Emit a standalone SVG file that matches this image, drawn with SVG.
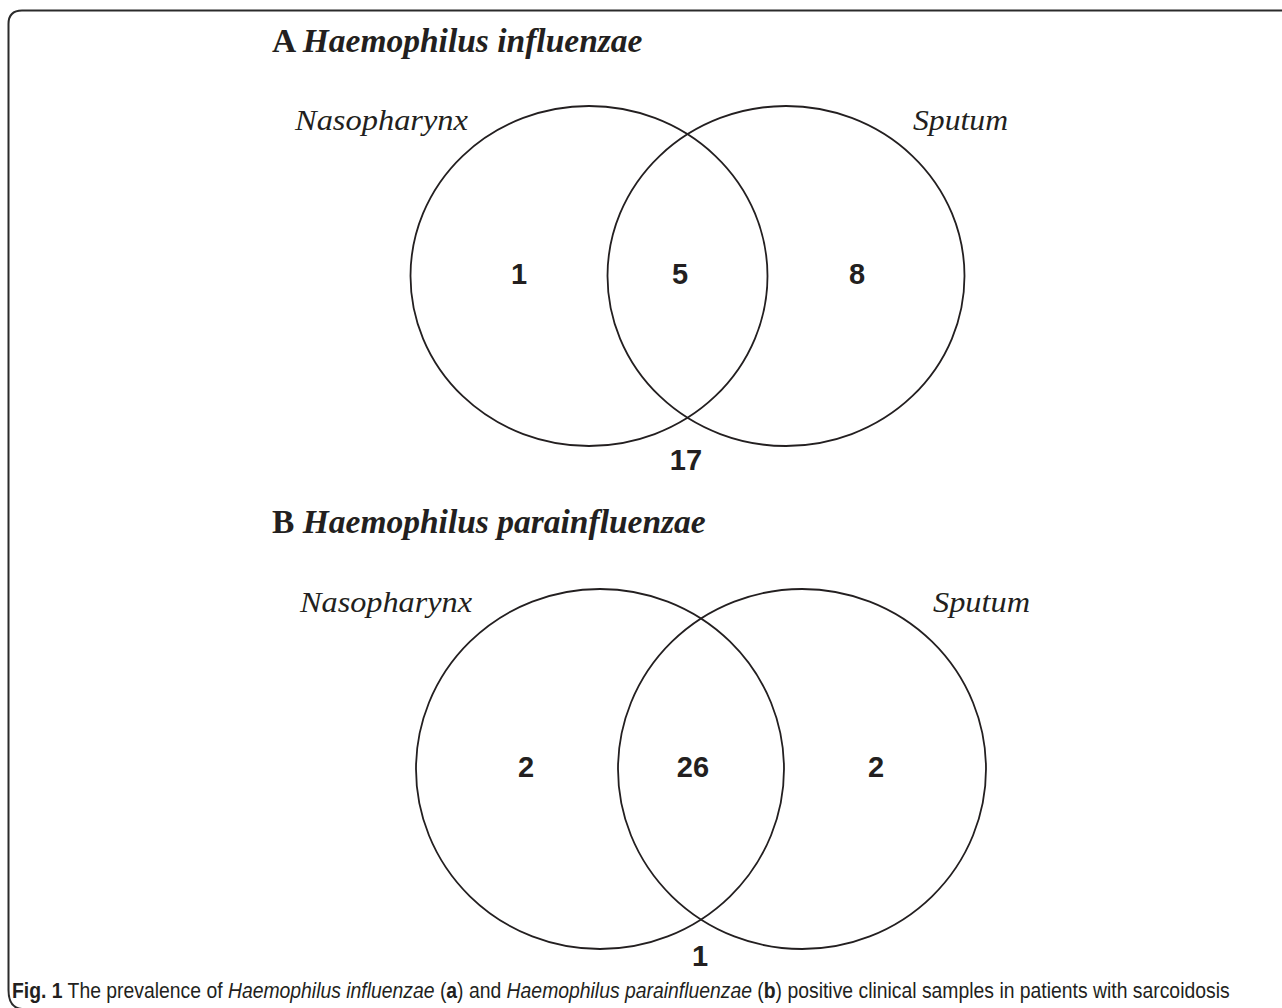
<svg xmlns="http://www.w3.org/2000/svg" width="1282" height="1008" viewBox="0 0 1282 1008">
<style>
.frame{fill:none;stroke:#2b2b2b;stroke-width:2}
.set{fill:none;stroke:#231f20;stroke-width:1.8}
.title{font-family:"Liberation Serif",serif;font-size:33.5px;font-weight:bold;fill:#231f20}
.lbl{font-family:"Liberation Serif",serif;font-size:29px;font-style:italic;fill:#231f20}
.num{font-family:"Liberation Sans",Arial,sans-serif;font-size:29px;font-weight:bold;fill:#231f20;text-anchor:middle}
.cap{font-family:"Liberation Sans",Arial,sans-serif;font-size:22px;fill:#231f20}
</style>
<rect width="1282" height="1008" fill="#fff"/>
<path class="frame" d="M1282 10.5 H22 Q8.5 10.5 8.5 24 V990 Q8.5 1008 22 1009"/>

<g id="panelA">
  <text class="title" x="272" y="52">A <tspan font-style="italic">Haemophilus  influenzae</tspan></text>
  <g id="A-nasopharynx">
    <ellipse class="set" cx="589" cy="276" rx="178.5" ry="170"/>
    <text class="lbl" x="295" y="130" textLength="173" lengthAdjust="spacingAndGlyphs">Nasopharynx</text>
    <text class="num" x="519" y="284">1</text>
  </g>
  <g id="A-sputum">
    <ellipse class="set" cx="786" cy="276" rx="178.5" ry="170"/>
    <text class="lbl" x="913" y="130" textLength="95" lengthAdjust="spacingAndGlyphs">Sputum</text>
    <text class="num" x="857" y="284">8</text>
  </g>
  <g id="A-both"><text class="num" x="680" y="284">5</text></g>
  <g id="A-neither"><text class="num" x="686" y="470">17</text></g>
</g>

<g id="panelB">
  <text class="title" x="272" y="533">B <tspan font-style="italic">Haemophilus parainfluenzae</tspan></text>
  <g id="B-nasopharynx">
    <ellipse class="set" cx="600" cy="769" rx="184" ry="180"/>
    <text class="lbl" x="300" y="612" textLength="172" lengthAdjust="spacingAndGlyphs">Nasopharynx</text>
    <text class="num" x="526" y="777">2</text>
  </g>
  <g id="B-sputum">
    <ellipse class="set" cx="802" cy="769" rx="184" ry="180"/>
    <text class="lbl" x="933" y="612" textLength="97" lengthAdjust="spacingAndGlyphs">Sputum</text>
    <text class="num" x="876" y="777">2</text>
  </g>
  <g id="B-both"><text class="num" x="693" y="777">26</text></g>
  <g id="B-neither"><text class="num" x="700" y="966">1</text></g>
</g>

<g id="connectors"></g>

<g id="caption" transform="translate(12,998) scale(0.88,1)">
<text class="cap" x="0" y="0"><tspan font-weight="bold">Fig. 1</tspan> The prevalence of <tspan font-style="italic">Haemophilus influenzae</tspan> (<tspan font-weight="bold">a</tspan>) and <tspan font-style="italic">Haemophilus parainfluenzae</tspan> (<tspan font-weight="bold">b</tspan>) positive clinical samples in patients with sarcoidosis</text>
</g>
</svg>
